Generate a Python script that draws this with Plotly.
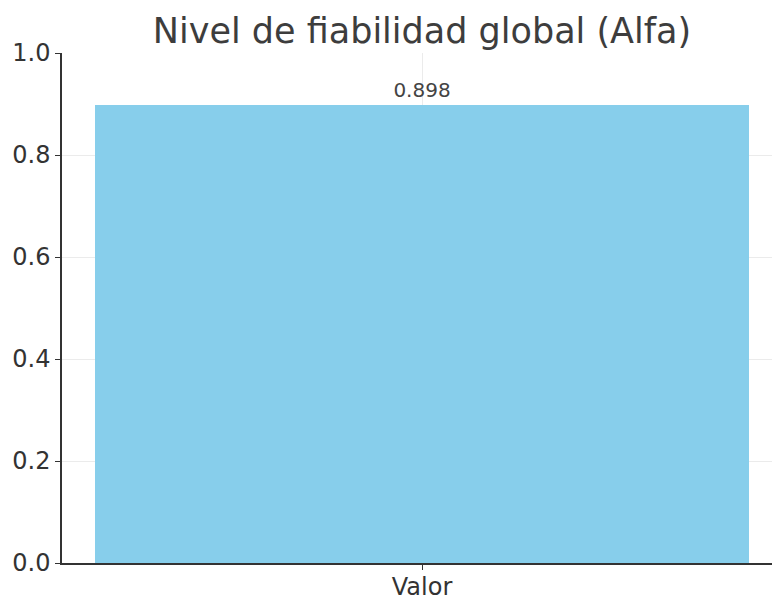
import plotly.graph_objects as go

categories = ["Valor"]
values = [0.898]
labels = ["0.898"]
y_ticks = [0.0, 0.2, 0.4, 0.6, 0.8, 1.0]
y_ticktext = ["0.0", "0.2", "0.4", "0.6", "0.8", "1.0"]

W, H = 772, 594  # page body has an 8px margin

fig = go.Figure(go.Bar(
    x=categories, y=values, width=0.8,
    marker=dict(color="#87CEEB", line=dict(width=0)),
    text=labels, textposition="outside", cliponaxis=False,
    textfont=dict(family="DejaVu Sans", size=20, color="#444444"),
))

fig.update_layout(
    width=W, height=H,
    margin=dict(l=54, r=0, t=45, b=39),
    paper_bgcolor="white", plot_bgcolor="white",
    font=dict(family="DejaVu Sans", color="#333333"),
    title=dict(text="Nivel de fiabilidad global (Alfa)", x=414 / W, xanchor="center",
               y=1 - 23 / H, yanchor="middle",
               font=dict(family="DejaVu Sans", size=35, color="#3d3d3d")),
    showlegend=False,
    bargap=0,
)
fig.update_xaxes(
    range=[-0.44, 0.44 * 358 / 360],
    showline=True, linecolor="#333333", linewidth=1.5,
    ticks="outside", ticklen=5, tickcolor="#333333", tickwidth=1,
    showgrid=True, gridcolor="#ebebeb", gridwidth=1,
    tickfont=dict(size=24, color="#333333"), zeroline=False,
    ticklabelstandoff=-4,
)
fig.update_yaxes(
    range=[0, 1.0],
    tickvals=y_ticks, ticktext=y_ticktext,
    showline=True, linecolor="#333333", linewidth=1.5,
    ticks="outside", ticklen=5, tickcolor="#333333", tickwidth=1,
    showgrid=True, gridcolor="#ebebeb", gridwidth=1,
    tickfont=dict(size=24, color="#333333"), zeroline=False,
)

fig.write_html("out.html")
